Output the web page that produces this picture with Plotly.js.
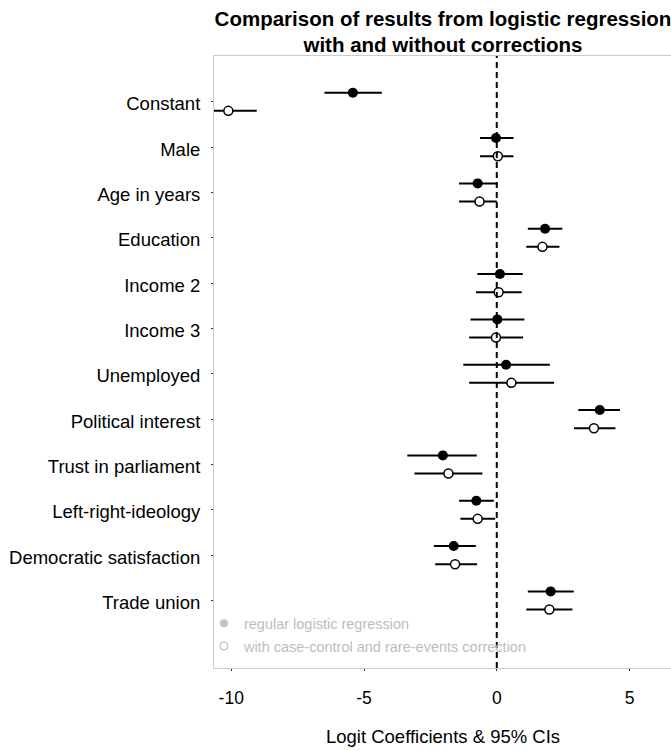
<!DOCTYPE html>
<html>
<head>
<meta charset="utf-8">
<script src="https://cdn.plot.ly/plotly-3.0.1.min.js"></script>
<style>
html,body{margin:0;padding:0;background:#fff;overflow:hidden;}
#chart{width:680px;height:751px;}
</style>
</head>
<body>
<div id="chart"></div>
<script>
// Data
const categories = ['Constant','Male','Age in years','Education','Income 2','Income 3',
  'Unemployed','Political interest','Trust in parliament','Left-right-ideology',
  'Democratic satisfaction','Trade union'];
const regEst  = [-5.42, -0.03, -0.72, 1.82, 0.12, 0.02, 0.35, 3.88, -2.03, -0.77, -1.62, 2.03];
const regLow  = [-6.49, -0.63, -1.42, 1.17, -0.73, -0.99, -1.26, 3.07, -3.37, -1.42, -2.37, 1.17];
const regHigh = [-4.33, 0.63, 0.02, 2.47, 0.98, 1.04, 2.00, 4.64, -0.75, -0.11, -0.79, 2.90];
const corEst  = [-10.11, 0.04, -0.65, 1.72, 0.07, -0.03, 0.55, 3.66, -1.82, -0.72, -1.57, 1.98];
const corLow  = [-11.18, -0.63, -1.42, 1.11, -0.78, -1.04, -1.04, 2.91, -3.10, -1.37, -2.32, 1.11];
const corHigh = [-9.04, 0.63, 0.00, 2.36, 0.94, 0.99, 2.16, 4.47, -0.54, -0.06, -0.74, 2.85];
const xTicks = [-10, -5, 0, 5];
const legendNames = ['regular logistic regression', 'with case-control and rare-events correction'];

const n = categories.length;
const pos = categories.map((c, i) => n - i);
const yReg = pos.map(p => p + 0.2);
const yCor = pos.map(p => p - 0.2);

const FONT = 'Liberation Sans, Arial, sans-serif';

const traces = [
  {
    x: regEst, y: yReg, type: 'scatter', mode: 'markers', showlegend: false,
    marker: {symbol: 'circle', size: 10, color: '#000'},
    error_x: {type: 'data', symmetric: false,
      array: regHigh.map((h, i) => h - regEst[i]),
      arrayminus: regEst.map((e, i) => e - regLow[i]),
      width: 0, thickness: 2, color: '#000'}
  },
  {
    x: corEst, y: yCor, type: 'scatter', mode: 'markers', showlegend: false,
    marker: {symbol: 'circle', size: 9, color: '#fff', line: {color: '#000', width: 1.5}},
    error_x: {type: 'data', symmetric: false,
      array: corHigh.map((h, i) => h - corEst[i]),
      arrayminus: corEst.map((e, i) => e - corLow[i]),
      width: 0, thickness: 2, color: '#000'}
  },
  {
    x: [null], y: [null], type: 'scatter', mode: 'markers', name: legendNames[0],
    legend: 'legend', showlegend: true,
    marker: {symbol: 'circle', size: 8, color: '#c4c4c4'}
  },
  {
    x: [null], y: [null], type: 'scatter', mode: 'markers', name: legendNames[1],
    legend: 'legend2', showlegend: true,
    marker: {symbol: 'circle-open', size: 8, color: '#b4b4b4', line: {width: 1}}
  }
];

const legendCommon = {
  xanchor: 'left', yanchor: 'middle', bgcolor: 'rgba(0,0,0,0)', borderwidth: 0,
  font: {family: FONT, size: 14.5, color: '#bdbdbd'}, itemwidth: 30
};

const layout = {
  width: 680, height: 751,
  margin: {l: 214, r: 8, t: 56, b: 83},
  paper_bgcolor: '#fff', plot_bgcolor: '#fff',
  font: {family: FONT, color: '#000'},
  title: {
    text: '<b>Comparison of results from logistic regression<br>with and without corrections</b>',
    font: {family: FONT, size: 20.5, color: '#000'},
    x: 0.5, xref: 'paper', xanchor: 'center',
    y: 0.966, yref: 'container', yanchor: 'middle'
  },
  xaxis: {
    range: [-10.65, 6.6], tickvals: xTicks, ticktext: xTicks.map(String),
    showgrid: false, zeroline: false,
    showline: true, mirror: true, linecolor: '#cccccc', linewidth: 1,
    ticks: 'outside', ticklen: 2, tickcolor: '#333', tickwidth: 1,
    tickfont: {family: FONT, size: 17.5, color: '#000'},
    ticklabelstandoff: 12,
    title: {text: 'Logit Coefficients & 95% CIs', font: {family: FONT, size: 18.5, color: '#000'}, standoff: 23}
  },
  yaxis: {
    range: [-0.49, 13.01], tickvals: pos, ticktext: categories,
    showgrid: false, zeroline: false,
    showline: true, mirror: true, linecolor: '#cccccc', linewidth: 1,
    ticks: 'outside', ticklen: 2, tickcolor: '#333', tickwidth: 1,
    tickfont: {family: FONT, size: 18.5, color: '#000'},
    ticklabelstandoff: 7, ticklabelshift: 2
  },
  shapes: [{
    type: 'line', xref: 'x', yref: 'paper', x0: 0, x1: 0, y0: 0, y1: 1,
    layer: 'above', line: {color: '#000', width: 2, dash: '6px,4px'}
  }],
  legend: Object.assign({x: -0.022, y: 0.073}, legendCommon),
  legend2: Object.assign({x: -0.022, y: 0.036}, legendCommon)
};

Plotly.newPlot('chart', traces, layout, {staticPlot: true, displayModeBar: false});
</script>
</body>
</html>
